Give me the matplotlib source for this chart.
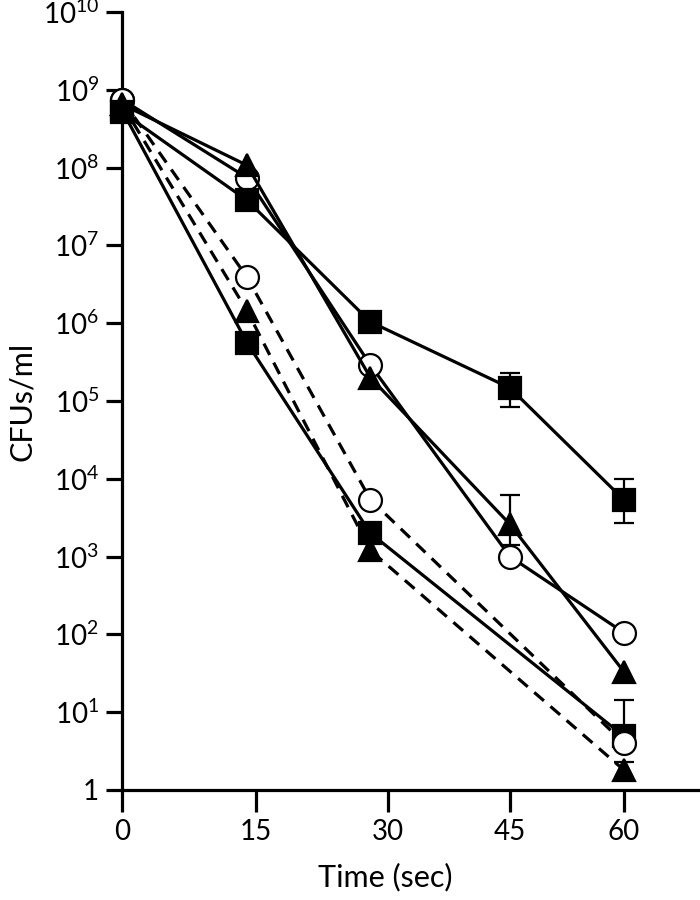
import numpy as np
import matplotlib
matplotlib.use('Agg')
import matplotlib.pyplot as plt
from matplotlib.ticker import FixedLocator, FixedFormatter

plt.rcParams['font.family'] = ['Lato', 'DejaVu Sans']
plt.rcParams['mathtext.fontset'] = 'custom'
plt.rcParams['mathtext.rm'] = 'Lato'

# sampling times (sec)
t_full = [0, 14, 28, 45, 60]
t_part = [0, 14, 28, 60]

# upper group (solid lines)
sq_a = [5.2e8, 3.8e7, 1.04e6, 1.47e5, 5.35e3]
sq_a_lo = [np.nan, np.nan, np.nan, 8.3e4, 2.7e3]
sq_a_hi = [np.nan, np.nan, np.nan, 2.3e5, 1.0e4]

circ_a = [7.5e8, 7.4e7, 2.9e5, 1.0e3, 1.05e2]

tri_a = [6.5e8, 1.07e8, 2.0e5, 2.6e3, 33]
tri_a_lo = [np.nan, np.nan, np.nan, 1.4e3, np.nan]
tri_a_hi = [np.nan, np.nan, np.nan, 6.2e3, np.nan]

# lower group
sq_b = [5.5e8, 5.6e5, 2.0e3, 4.9]          # solid
sq_b_lo = [np.nan, np.nan, np.nan, 3.6]
sq_b_hi = [np.nan, np.nan, np.nan, 14.4]

circ_b = [7.5e8, 3.9e6, 5.4e3, 4.0]        # dashed
tri_b = [6.5e8, 1.44e6, 1.2e3, 1.8]        # dashed
tri_b_lo = [np.nan, np.nan, np.nan, 1.35]
tri_b_hi = [np.nan, np.nan, np.nan, 2.3]

# the original x axis is unevenly spaced between its labelled ticks
axis_t = [0, 15, 30, 45, 60, 75]
axis_px = [0, 134, 266, 388, 502, 616]


def fwd(v):
    return np.interp(v, axis_t, axis_px)


def inv(p):
    return np.interp(p, axis_px, axis_t)


fig = plt.figure(figsize=(7, 9), dpi=100)
ax = fig.add_axes([122 / 700, 110 / 900, 578 / 700, 778 / 900])
ax.set_xscale('function', functions=(fwd, inv))
ax.set_yscale('log')


def draw(x, y, marker, fc, dashed, z, lo=None, hi=None):
    kw = dict(color='black', lw=2.3, marker=marker, ms=16.5, mfc=fc,
              mec='black', mew=1.6, zorder=z, clip_on=False)
    if dashed:
        kw['dashes'] = (4, 2.7)
    ax.plot(x, y, **kw)
    if lo is not None:
        x = np.asarray(x, float)
        y = np.asarray(y, float)
        lo = np.asarray(lo, float)
        hi = np.asarray(hi, float)
        m = ~np.isnan(hi)
        ax.errorbar(x[m], y[m], yerr=[y[m] - lo[m], hi[m] - y[m]], fmt='none',
                    ecolor='black', elinewidth=1.6, capsize=7.5, capthick=1.6,
                    zorder=z - 0.5, clip_on=False)


draw(t_part, tri_b, '^', 'black', True, 3, tri_b_lo, tri_b_hi)
draw(t_part, sq_b, 's', 'black', False, 4, sq_b_lo, sq_b_hi)
draw(t_part, circ_b, 'o', 'white', True, 5)
draw(t_full, circ_a, 'o', 'white', False, 6)
draw(t_full, tri_a, '^', 'black', False, 7, tri_a_lo, tri_a_hi)
draw(t_full, sq_a, 's', 'black', False, 8, sq_a_lo, sq_a_hi)

ax.set_xlim(0, 70)
ax.set_ylim(1, 1e10)

for s in ['top', 'right']:
    ax.spines[s].set_visible(False)
for s in ['left', 'bottom']:
    ax.spines[s].set_linewidth(2.3)

xt = [0, 15, 30, 45, 60]
ax.xaxis.set_major_locator(FixedLocator(xt))
ax.xaxis.set_minor_locator(FixedLocator(xt))
ax.xaxis.set_major_formatter(FixedFormatter([str(v) for v in xt]))
ax.xaxis.set_minor_formatter(FixedFormatter([''] * len(xt)))

yt = [10.0 ** k for k in range(11)]
ylabels = ['1'] + [r'$\mathregular{10^{%d}}$' % k for k in range(1, 11)]
ax.yaxis.set_major_locator(FixedLocator(yt))
ax.yaxis.set_minor_locator(FixedLocator(yt))
ax.yaxis.set_major_formatter(FixedFormatter(ylabels))
ax.yaxis.set_minor_formatter(FixedFormatter([''] * len(yt)))

ax.tick_params(axis='x', which='major', direction='out', length=15.8, width=2.3,
               labelsize=20, pad=5)
ax.tick_params(axis='x', which='minor', direction='in', length=8, width=2.3)
ax.tick_params(axis='y', which='major', direction='out', length=11.5, width=2.3,
               labelsize=20, pad=5)
ax.tick_params(axis='y', which='minor', direction='in', length=3.6, width=2.3)

ax.set_xlabel('Time (sec)', fontsize=22, va='center')
ax.xaxis.set_label_coords((385 - 122) / 578, -(877 - 790) / 778)
ax.set_ylabel('CFUs/ml', fontsize=22, va='center')
ax.yaxis.set_label_coords(-(122 - 22) / 578, 0.5)

fig.savefig('out.png', dpi=100)
